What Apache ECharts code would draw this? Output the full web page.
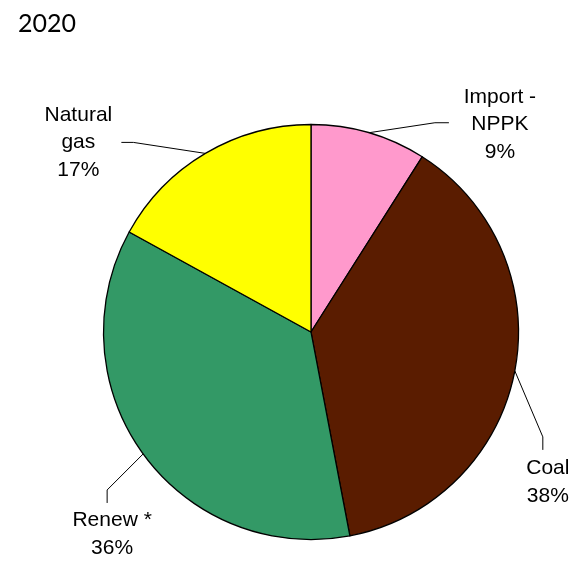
<!DOCTYPE html>
<html>
<head>
<meta charset="utf-8">
<title>2020</title>
<script src="https://cdn.jsdelivr.net/npm/echarts@6/dist/echarts.min.js"></script>
<style>
  html, body { margin: 0; padding: 0; background: #ffffff; }
  #chart { width: 585px; height: 563px; }
</style>
</head>
<body>
<div id="chart"></div>
<script>
// Electricity supply mix, 2020 (share in %)
const year = '2020';
const sources = ['Import -\nNPPK', 'Coal', 'Renew *', 'Natural\ngas'];
const shares = [9, 38, 36, 17];
const sliceColors = ['#FF99CC', '#5A1C00', '#339966', '#FFFF00'];

// Leader line bends and label anchors, as offsets from the slice's edge point
const leaderLayout = [
  { turn: [66, -10], end: [80, -10], label: [131, -8.5], v: 'middle' },
  { turn: [28, 66], end: [28, 79], label: [33, 84], v: 'top' },
  { turn: [-36, 36], end: [-36, 49], label: [-31, 52.5], v: 'top' },
  { turn: [-72, -11], end: [-84, -11], label: [-127, -11], v: 'middle' }
];

const chart = echarts.init(document.getElementById('chart'), null, { renderer: 'canvas' });

chart.setOption({
  animation: false,
  backgroundColor: '#ffffff',
  title: {
    text: year,
    left: 18,
    top: 11,
    padding: 0,
    textStyle: {
      fontFamily: 'Lato',
      fontSize: 25,
      fontWeight: 'normal',
      color: '#000000'
    }
  },
  series: [{
    type: 'pie',
    center: [311, 332],
    radius: [0, 207.5],
    startAngle: 90,
    clockwise: true,
    avoidLabelOverlap: false,
    data: sources.map((name, i) => ({
      name: name,
      value: shares[i],
      itemStyle: { color: sliceColors[i] }
    })),
    itemStyle: {
      borderColor: '#000000',
      borderWidth: 1.3
    },
    emphasis: { disabled: true },
    label: {
      show: true,
      position: 'outside',
      formatter: '{b}\n{c}%',
      fontFamily: '"Liberation Sans", Arial, sans-serif',
      fontSize: 21,
      lineHeight: 27.5,
      color: '#000000',
      align: 'center'
    },
    labelLine: {
      show: true,
      length: 20,
      length2: 10,
      lineStyle: { color: '#000000', width: 1 }
    },
    labelLayout: function (params) {
      const pts = params.labelLinePoints;
      const cfg = leaderLayout[params.dataIndex];
      if (!pts || !cfg) return {};
      const a = pts[0];
      return {
        x: a[0] + cfg.label[0],
        y: a[1] + cfg.label[1],
        align: 'center',
        verticalAlign: cfg.v,
        labelLinePoints: [
          [a[0], a[1]],
          [a[0] + cfg.turn[0], a[1] + cfg.turn[1]],
          [a[0] + cfg.end[0], a[1] + cfg.end[1]]
        ]
      };
    }
  }]
});
</script>
</body>
</html>
